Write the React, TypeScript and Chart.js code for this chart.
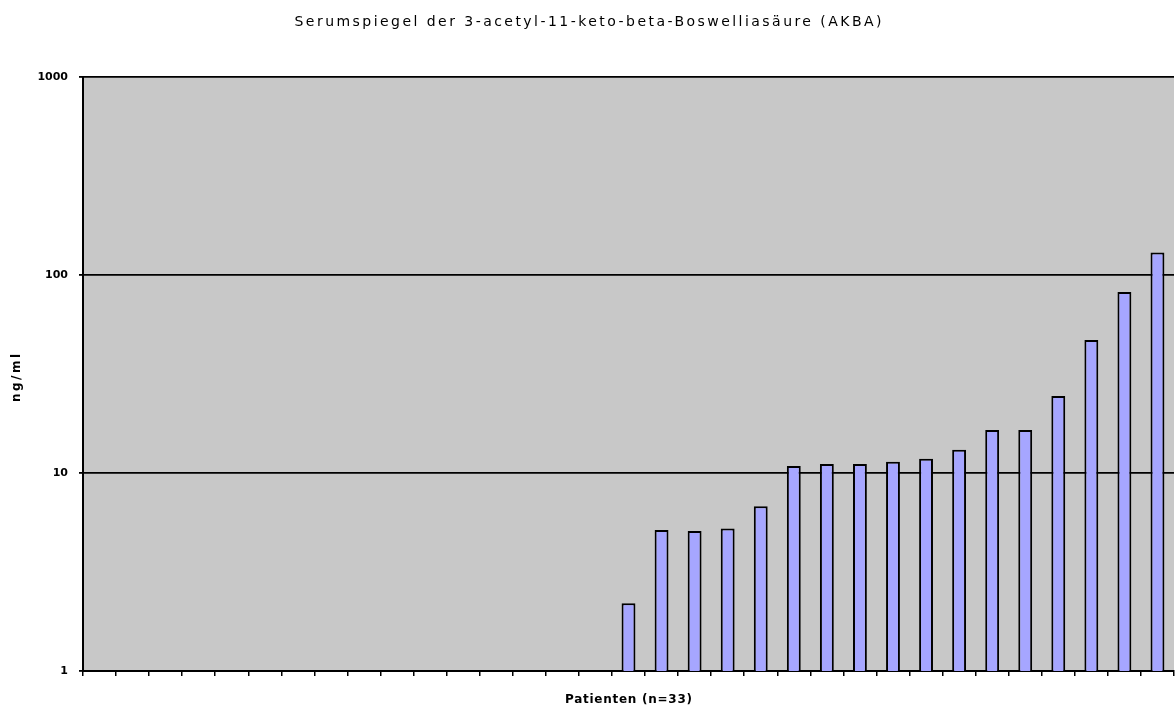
import React, { useEffect, useRef } from "react";
import { Chart, registerables } from "chart.js";

Chart.register(...registerables);

const TITLE = "Serumspiegel der 3-acetyl-11-keto-beta-Boswelliasäure (AKBA)";
const X_TITLE = "Patienten (n=33)";
const Y_TITLE = "ng/ml";

const PATIENTS = [
  "1", "2", "3", "4", "5", "6", "7", "8", "9", "10", "11",
  "12", "13", "14", "15", "16", "17", "18", "19", "20", "21", "22",
  "23", "24", "25", "26", "27", "28", "29", "30", "31", "32", "33",
];

const AKBA_VALUES: (number | null)[] = [
  null, null, null, null, null, null, null, null,
  null, null, null, null, null, null, null, null,
  2.2, 5.15, 5.1, 5.25, 6.8, 10.85, 11.1, 11.1,
  11.4, 11.8, 13.1, 16.5, 16.5, 24.5, 47, 82, 130,
];

const Y_TICKS = [1, 10, 100, 1000];

const plotBg = {
  id: "plotBg",
  beforeDraw(chart: any) {
    const { ctx, chartArea } = chart;
    ctx.save();
    ctx.fillStyle = "#C8C8C8";
    ctx.fillRect(chartArea.left, chartArea.top, chartArea.right - chartArea.left, chartArea.bottom - chartArea.top);
    ctx.restore();
  },
};

const spacedTexts = {
  id: "spacedTexts",
  afterDraw(chart: any) {
    const ctx = chart.ctx;
    const draw = (text: string, x: number, y: number, font: string, width: number, rotate: boolean) => {
      ctx.save();
      ctx.font = font;
      ctx.fillStyle = "#000";
      ctx.textBaseline = "middle";
      ctx.textAlign = "center";
      const w0 = ctx.measureText(text).width;
      const sp = Math.max(0, (width - w0) / Math.max(1, text.length - 1));
      (ctx as any).letterSpacing = sp + "px";
      ctx.translate(x, y);
      if (rotate) ctx.rotate(-Math.PI / 2);
      ctx.fillText(text, sp / 2, 0);
      ctx.restore();
    };
    const area = chart.chartArea;
    draw(TITLE, chart.width / 2, 22, '14px "DejaVu Sans"', 587, false);
    draw(X_TITLE, (area.left + area.right) / 2, 700, 'bold 12px "DejaVu Sans"', 127, false);
    draw(Y_TITLE, 17, (area.top + area.bottom) / 2 + 4, 'bold 12px "DejaVu Sans"', 48, true);
  },
};

export default function App() {
  const canvasRef = useRef<HTMLCanvasElement | null>(null);

  useEffect(() => {
    if (!canvasRef.current) return;
    const chart = new Chart(canvasRef.current, {
      type: "bar",
      data: {
        labels: PATIENTS,
        datasets: [
          {
            label: "AKBA",
            data: AKBA_VALUES,
            backgroundColor: "#A6A6FF",
            borderColor: "#000000",
            borderWidth: 2,
            barPercentage: 0.42,
            categoryPercentage: 1,
          },
        ],
      },
      options: {
        animation: false,
        responsive: true,
        maintainAspectRatio: false,
        layout: { padding: { top: 77, left: 0, right: 2, bottom: 0 } },
        plugins: {
          legend: { display: false },
          title: { display: false },
          tooltip: { enabled: false },
        },
        scales: {
          x: {
            type: "category",
            offset: true,
            grid: {
              display: true,
              offset: true,
              drawOnChartArea: false,
              drawTicks: true,
              tickLength: 5,
              color: "#000",
              lineWidth: 1.5,
            },
            border: { display: true, color: "#000", width: 2 },
            ticks: { display: false },
            afterFit(scale: any) {
              scale.height = 42;
            },
          },
          y: {
            type: "logarithmic",
            min: 1,
            max: 1000,
            afterBuildTicks(scale: any) {
              scale.ticks = Y_TICKS.map((v) => ({ value: v }));
            },
            afterFit(scale: any) {
              scale.width = 83;
            },
            grid: {
              color: "#000",
              lineWidth: 1.8,
              tickLength: 4,
              drawTicks: true,
            },
            border: { display: true, color: "#000", width: 2 },
            ticks: {
              padding: 11,
              color: "#000",
              font: { family: '"DejaVu Sans"', size: 11, weight: "bold" },
              callback: (v: any) => String(v),
              autoSkip: false,
            },
          },
        },
      },
      plugins: [plotBg, spacedTexts],
    });
    return () => chart.destroy();
  }, []);

  return (
    <div style={{ position: "absolute", left: 0, top: 0, width: 1176, height: 713, background: "#fff" }}>
      <canvas ref={canvasRef} />
    </div>
  );
}
